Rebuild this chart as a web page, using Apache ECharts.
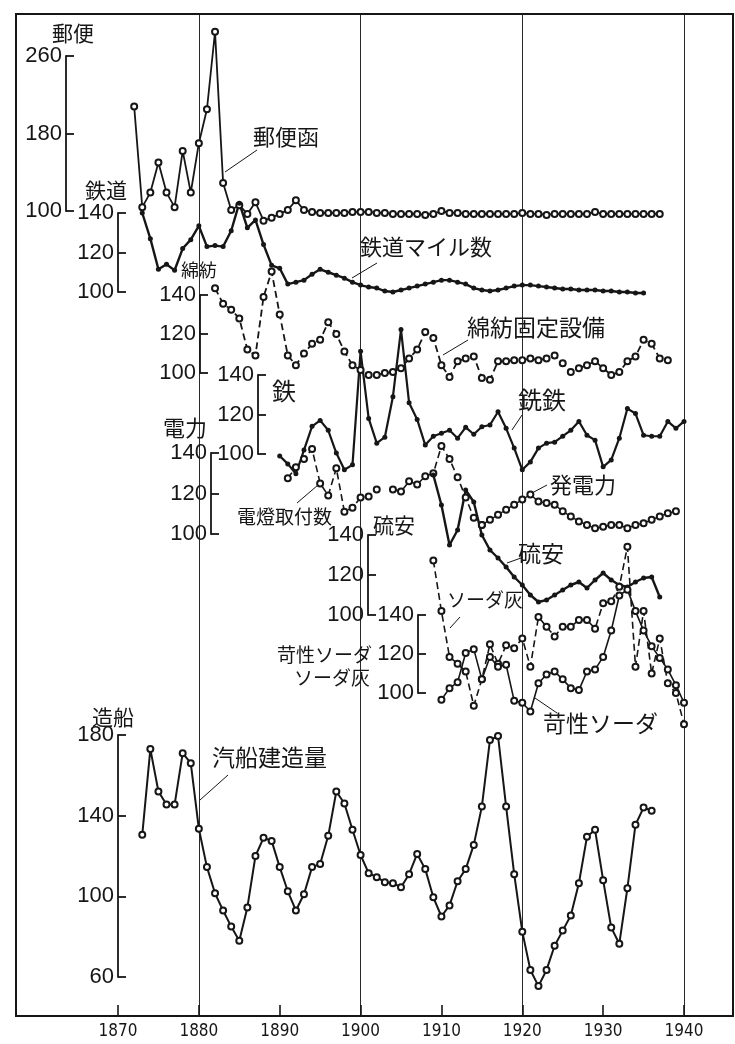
<!DOCTYPE html>
<html>
<head>
<meta charset="utf-8">
<script src="https://cdn.jsdelivr.net/npm/echarts@6/dist/echarts.min.js"></script>
<style>
html,body{margin:0;padding:0;background:#fff;}
#c{width:735px;height:1044px;}
</style>
</head>
<body>
<div id="c"></div>
<script>
// ---- data (index values per year) ----
const postYears = [1872,1873,1874,1875,1876,1877,1878,1879,1880,1881,1882,1883,1884,1885,1886,1887,1888,1889,1890,1891,1892,1893,1894,1895,1896,1897,1898,1899,1900,1901,1902,1903,1904,1905,1906,1907,1908,1909,1910,1911,1912,1913,1914,1915,1916,1917,1918,1919,1920,1921,1922,1923,1924,1925,1926,1927,1928,1929,1930,1931,1932,1933,1934,1935,1936,1937];
const postBoxes = [208,104,119,150,119,104,162,119,170,205,285,129,101,106,97,109,90,93,97,101,111,101,99,98,98,98,98,99,99,99,98,98,97,97,97,97,96,97,100,98,98,97,97,97,97,97,97,97,98,97,97,96,97,97,97,97,97,99,97,97,97,97,97,97,97,97];

const railYears = [1873,1874,1875,1876,1877,1878,1879,1880,1881,1882,1883,1884,1885,1886,1887,1888,1889,1890,1891,1892,1893,1894,1895,1896,1897,1898,1899,1900,1901,1902,1903,1904,1905,1906,1907,1908,1909,1910,1911,1912,1913,1914,1915,1916,1917,1918,1919,1920,1921,1922,1923,1924,1925,1926,1927,1928,1929,1930,1931,1932,1933,1934,1935];
const railMiles = [140,127,111.5,114,111,122,126.5,133.5,123,123.5,123,131,145,132.5,136.5,124,113.5,112,104,105,106,109,111.5,110,108.5,107,105,103.5,102.5,102,100.5,100,101,102,103,104,105,106,106,105,104,102,101,100.5,101,102,103,103.5,103.5,103,102.5,102,101.5,101.5,101,101,101,100.5,100.5,100,100,99.5,99.5];

const cottonYears = [1882,1883,1884,1885,1886,1887,1888,1889,1890,1891,1892,1893,1894,1895,1896,1897,1898,1899,1900,1901,1902,1903,1904,1905,1906,1907,1908,1909,1910,1911,1912,1913,1914,1915,1916,1917,1918,1919,1920,1921,1922,1923,1924,1925,1926,1927,1928,1929,1930,1931,1932,1933,1934,1935,1936,1937,1938];
const cottonSpindles = [143.5,135.5,132.5,128,112,109,139,152,130,109,104,110,115,117,126,120,111,104,101.5,99,99,100,100.5,102.5,107.5,112,121,118,104,98,106,107.5,108.5,97.5,96.5,106,106,106.5,106.5,107.5,106.5,107.5,109,105,100.5,102.5,104,106,102.5,99,100.5,106,108.5,117,115,107.5,106.5];

const ironYears = [1890,1891,1892,1893,1894,1895,1896,1897,1898,1899,1900,1901,1902,1903,1904,1905,1906,1907,1908,1909,1910,1911,1912,1913,1914,1915,1916,1917,1918,1919,1920,1921,1922,1923,1924,1925,1926,1927,1928,1929,1930,1931,1932,1933,1934,1935,1936,1937,1938,1939,1940];
const pigIron = [99,95,90,102,114,117,112,100.5,92,94.5,152,118,105.5,108.5,129,163,126,117.5,104.5,109,110.5,112,108,113.5,110,113.8,114.7,121.4,113,103,92,96,103,105.5,106,109,112,116.5,109.5,107,93.5,97,108,123,120.5,109.5,109,109,116.5,113,116.5];

const lampYears = [1891,1892,1893,1894,1895,1896,1897,1898,1899,1900,1901,1902,1903,1904,1905,1906,1907,1908,1909,1910,1911,1912,1913,1914,1915];
const lampInstalls = [127.5,133,137,142,125,119,132.5,111,113,118,118.5,122,null,122,121,126,124.5,128.5,130,143.5,137,128,118,108,104.5];

const genYears = [1915,1916,1917,1918,1919,1920,1921,1922,1923,1924,1925,1926,1927,1928,1929,1930,1931,1932,1933,1934,1935,1936,1937,1938,1939];
const genCapacity = [104.5,107,109.5,112,114.5,117,119.5,116,115.3,114.5,111.2,108.7,106.2,104.5,102.8,103.6,104.5,104.5,102.8,104.5,105.3,107,108.7,110.3,111.2];

const ammYears = [1909,1910,1911,1912,1913,1914,1915,1916,1917,1918,1919,1920,1921,1922,1923,1924,1925,1926,1927,1928,1929,1930,1931,1932,1933,1934,1935,1936,1937];
const ammSulphate = [170,155,135,142.5,162.5,156.5,140,132.5,128.5,124,119,115,110,106.5,107.5,110,112.5,115,116.5,113.5,117.5,121,117.5,115,114,116.5,118.5,119,109];

const ashYears = [1909,1910,1911,1912,1913,1914,1915,1916,1917,1918,1919,1920,1921,1922,1923,1924,1925,1926,1927,1928,1929,1930,1931,1932,1933,1934,1935,1936,1937,1938,1939,1940];
const sodaAsh = [168,142,118.5,115,111,93.5,107,125,115,124.5,123,128,113.5,139,134,129,134,134,137.5,137.5,133,146,147,154.5,175,113.5,142,110,128,105,100,84];

const causticYears = [1910,1911,1912,1913,1914,1915,1916,1917,1918,1919,1920,1921,1922,1923,1924,1925,1926,1927,1928,1929,1930,1931,1932,1933,1934,1935,1936,1937,1938,1939,1940];
const causticSoda = [96.5,102.5,105.5,120.5,122.5,107,118.5,113.5,114.5,96,95,90.5,105,109.5,111,107,102.5,101.5,111,112,118.5,132,150,153,142,132,124,118,112,104,95];

const shipYears = [1873,1874,1875,1876,1877,1878,1879,1880,1881,1882,1883,1884,1885,1886,1887,1888,1889,1890,1891,1892,1893,1894,1895,1896,1897,1898,1899,1900,1901,1902,1903,1904,1905,1906,1907,1908,1909,1910,1911,1912,1913,1914,1915,1916,1917,1918,1919,1920,1921,1922,1923,1924,1925,1926,1927,1928,1929,1930,1931,1932,1933,1934,1935,1936];
const steamships = [130.5,173,152,145.5,145.5,171,166,133.5,114.5,101.5,93,85,78,94.5,120,129,127.5,114.5,102.5,93,101,114.5,116,130,152,146,133,120.5,111.5,109.5,107,106.5,104.5,111,121,113.5,99.5,90,95.5,107.5,113.5,125.5,144.5,177.5,179.5,144.5,111,82.5,63.5,55.5,63.5,75.5,83,90.5,106.5,129.5,133,108,84.5,76.5,104,135.5,144,142.5];

const xTickLabels = [1870,1880,1890,1900,1910,1920,1930,1940];

// ---- layout ----
const INK = '#161616';
const X0 = 118, XW = 566;            // 1870 .. 1940
const PX_PER_YEAR = XW / 70;
const JP = '"Noto Sans CJK JP", "Noto Sans CJK SC", sans-serif';
const NUM = '"Liberation Sans", Arial, sans-serif';

// each stacked panel: vertical band, position of its own y-axis, range
const panels = [
  {top: 56,  height: 155, axisX: 66,  min: 100, max: 260, interval: 80}, // 郵便
  {top: 213, height: 79,  axisX: 118, min: 100, max: 140, interval: 20}, // 鉄道
  {top: 295, height: 78,  axisX: 200, min: 100, max: 140, interval: 20}, // 綿紡
  {top: 375, height: 79,  axisX: 258, min: 100, max: 140, interval: 20}, // 鉄
  {top: 453, height: 81,  axisX: 211, min: 100, max: 140, interval: 20}, // 電力
  {top: 535, height: 80,  axisX: 368, min: 100, max: 140, interval: 20}, // 硫安
  {top: 615, height: 78,  axisX: 418, min: 100, max: 140, interval: 20}, // ソーダ
  {top: 735, height: 242, axisX: 118, min: 60,  max: 180, interval: 40}  // 造船
];

const grids = [], xAxes = [], yAxes = [];
panels.forEach((p, i) => {
  grids.push({left: X0, width: XW, top: p.top, height: p.height});
  xAxes.push({gridIndex: i, type: 'value', min: 1870, max: 1940, show: false});
  yAxes.push({
    gridIndex: i, type: 'value', position: 'left',
    min: p.min, max: p.max, interval: p.interval,
    offset: X0 - p.axisX,
    axisLine: {show: true, lineStyle: {color: INK, width: 1.8}},
    axisTick: {show: true, inside: true, length: 8, lineStyle: {color: INK, width: 1.8}},
    axisLabel: {show: true, margin: 4, color: INK, fontSize: 22, fontFamily: NUM},
    splitLine: {show: false}
  });
});

// full-height decade lines (1880, 1900, 1920, 1940)
const VG = grids.length;
grids.push({left: X0 - 10 * PX_PER_YEAR, width: XW + 10 * PX_PER_YEAR, top: 14, height: 1002});
xAxes.push({gridIndex: VG, type: 'value', min: 1860, max: 1940, interval: 20,
  axisLine: {show: false}, axisTick: {show: false}, axisLabel: {show: false},
  splitLine: {show: true, showMinLine: false, showMaxLine: true, lineStyle: {color: '#2a2a2a', width: 1}}});
yAxes.push({gridIndex: VG, type: 'value', show: false});

// bottom year axis
const BG = grids.length;
grids.push({left: X0, width: XW, top: 14, height: 1002});
xAxes.push({gridIndex: BG, type: 'value', min: 1870, max: 1940, interval: 10,
  axisLine: {show: false},
  axisTick: {show: true, inside: true, length: 11, lineStyle: {color: INK, width: 1.6}},
  axisLabel: {show: true, margin: 7, color: INK, fontSize: 17,
    fontFamily: '"Liberation Sans Narrow", "DejaVu Sans Condensed", "Liberation Sans", sans-serif',
    formatter: v => (xTickLabels.indexOf(v) >= 0 ? String(v) : '')},
  splitLine: {show: false}});
yAxes.push({gridIndex: BG, type: 'value', show: false});

function pairs(years, vals) { return years.map((y, i) => [y, vals[i]]); }

function line(name, panel, years, vals, opts) {
  const filled = opts.filled;
  return {
    name, type: 'line', xAxisIndex: panel, yAxisIndex: panel,
    data: pairs(years, vals), clip: false, connectNulls: false,
    symbol: filled ? 'circle' : 'emptyCircle',
    symbolSize: filled ? 5 : 6,
    itemStyle: {color: INK, borderColor: INK, borderWidth: filled ? 0 : 1.2},
    lineStyle: {color: INK, width: opts.width || 1.8, type: opts.dashed ? [7, 4] : 'solid'},
    animation: false, silent: true, z: 3
  };
}

const series = [
  line('郵便函', 0, postYears, postBoxes, {width: 1.8}),
  line('鉄道マイル数', 1, railYears, railMiles, {filled: true, width: 2.4}),
  line('綿紡固定設備', 2, cottonYears, cottonSpindles, {dashed: true, width: 1.8}),
  line('銑鉄', 3, ironYears, pigIron, {filled: true, width: 2.2}),
  line('電燈取付数', 4, lampYears, lampInstalls, {dashed: true, width: 1.6}),
  line('発電力', 4, genYears, genCapacity, {width: 1.4}),
  line('硫安', 5, ammYears, ammSulphate, {filled: true, width: 2.4}),
  line('ソーダ灰', 6, ashYears, sodaAsh, {dashed: true, width: 1.6}),
  line('苛性ソーダ', 6, causticYears, causticSoda, {width: 1.6}),
  line('汽船建造量', 7, shipYears, steamships, {width: 2})
];

// ---- text and leader lines ----
function txt(text, x, y, size, align) {
  return {type: 'text', silent: true, z: 10,
    style: {text, x, y, fill: INK, font: size + 'px ' + JP,
      textAlign: align || 'left', textVerticalAlign: 'middle'}};
}
function lead(x1, y1, x2, y2) {
  return {type: 'line', silent: true, z: 10,
    shape: {x1, y1, x2, y2}, style: {stroke: INK, lineWidth: 1}};
}

const graphic = [
  {type: 'rect', silent: true, z: 1, shape: {x: 16, y: 14, width: 717, height: 1002},
   style: {fill: 'none', stroke: INK, lineWidth: 2}},
  // panel titles
  txt('郵便', 52, 33, 21),
  txt('鉄道', 85, 190, 21),
  txt('綿紡', 181, 270, 18),
  txt('鉄', 272, 391, 24),
  txt('電力', 163, 428, 22),
  txt('硫安', 373, 525, 21),
  txt('苛性ソーダ', 372, 655, 19, 'right'),
  txt('ソーダ灰', 370, 678, 19, 'right'),
  txt('造船', 92, 717, 21),
  // series labels
  txt('郵便函', 253, 137, 22), lead(257, 150, 225, 172),
  txt('鉄道マイル数', 360, 247, 22), lead(377, 263, 352, 278),
  txt('綿紡固定設備', 467, 327, 23), lead(468, 340, 443, 355),
  txt('銑鉄', 518, 400, 24), lead(522, 415, 512, 430),
  txt('電燈取付数', 237, 517, 19), lead(297, 503, 318, 485),
  txt('発電力', 550, 485, 22), lead(547, 485, 532, 493),
  txt('硫安', 518, 553, 23), lead(521, 558, 507, 563),
  txt('ソーダ灰', 447, 600, 19), lead(460, 617, 450, 628),
  txt('苛性ソーダ', 543, 723, 23), lead(557, 713, 535, 698),
  txt('汽船建造量', 212, 757, 23), lead(228, 775, 200, 800)
];

const chart = echarts.init(document.getElementById('c'), null, {renderer: 'canvas'});
chart.setOption({
  backgroundColor: '#ffffff',
  animation: false,
  grid: grids, xAxis: xAxes, yAxis: yAxes,
  series, graphic
});
</script>
</body>
</html>
